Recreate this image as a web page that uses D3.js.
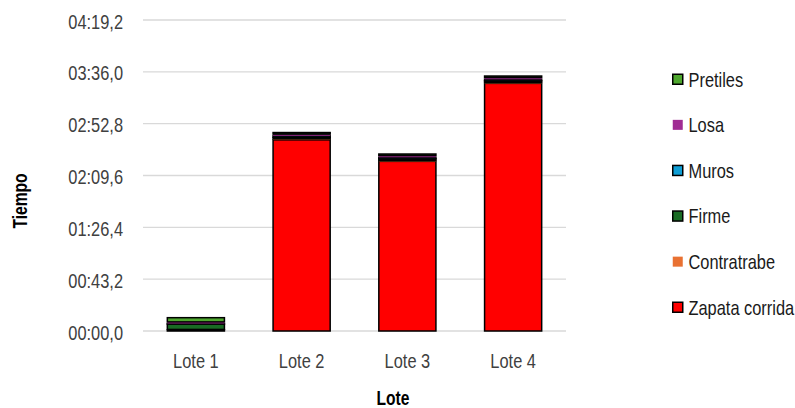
<!DOCTYPE html>
<html>
<head>
<meta charset="utf-8">
<script src="https://cdn.jsdelivr.net/npm/d3@7"></script>
<style>
  html, body { margin: 0; padding: 0; background: #fff; }
</style>
</head>
<body>
<svg id="chart" width="795" height="408"></svg>
<script>
// Durations in seconds per lot and construction stage
const lotes = ["Lote 1", "Lote 2", "Lote 3", "Lote 4"];
const etapas = ["Zapata corrida", "Contratrabe", "Firme", "Muros", "Losa", "Pretiles"];
const zapataCorrida = [1, 159.3, 141.4, 206.4];
const contratrabe   = [0.3, 0.8, 0.8, 0.8];
const firme         = [4.5, 1.3, 1.3, 1.3];
const muros         = [0.5, 1.3, 1.3, 1.3];
const losa          = [1.3, 1.4, 1.4, 1.4];
const pretiles      = [3.5, 1.3, 1.3, 1.3];
const yTicks = [0, 43.2, 86.4, 129.6, 172.8, 216, 259.2];

const colores = {
  "Zapata corrida": "#FF0000",
  "Contratrabe": "#E97132",
  "Firme": "#196B24",
  "Muros": "#0F9ED5",
  "Losa": "#A02B93",
  "Pretiles": "#4EA72E"
};
const sinBorde = new Set(["Contratrabe", "Losa"]);

// Pick a narrow face; if none is present, squeeze a regular one horizontally
function fontExists(name) {
  const ctx = document.createElement("canvas").getContext("2d");
  const probe = "Zapata corrida 04:19,2";
  ctx.font = "20px monospace";
  const base = ctx.measureText(probe).width;
  ctx.font = `20px "${name}", monospace`;
  return Math.abs(ctx.measureText(probe).width - base) > 0.5;
}
let FONT, SX;
if (fontExists("Liberation Sans Narrow")) { FONT = '"Liberation Sans Narrow"'; SX = 1; }
else if (fontExists("Arial Narrow")) { FONT = '"Arial Narrow"'; SX = 1; }
else { FONT = '"Liberation Sans", Arial, sans-serif'; SX = 0.8; }

function label(parent, x, y, str, o = {}) {
  return parent.append("text")
    .attr("transform", `translate(${x},${y}) rotate(${o.rotate || 0}) scale(${SX},1)`)
    .attr("text-anchor", o.anchor || "start")
    .attr("font-family", FONT)
    .attr("font-size", o.size || 20.5)
    .attr("font-weight", o.weight || "normal")
    .attr("fill", o.fill || "#262626")
    .text(str);
}

const series = [zapataCorrida, contratrabe, firme, muros, losa, pretiles];
const rows = lotes.map((l, i) => {
  const r = { lote: l };
  etapas.forEach((e, k) => r[e] = series[k][i]);
  return r;
});

const svg = d3.select("#chart");
const x = d3.scaleBand().domain(lotes).range([143, 566]).paddingInner(0.46).paddingOuter(0.23);
const y = d3.scaleLinear().domain([0, 259.2]).range([331, 20]);

const fmt = s => {
  const m = Math.floor(s / 60 + 1e-9);
  const sec = s - m * 60;
  return String(m).padStart(2, "0") + ":" + sec.toFixed(1).padStart(4, "0").replace(".", ",");
};

// gridlines
svg.append("g").selectAll("line").data(yTicks).join("line")
  .attr("x1", 143).attr("x2", 566)
  .attr("y1", d => y(d)).attr("y2", d => y(d))
  .attr("stroke", "#d9d9d9").attr("stroke-width", 1.3);

// y axis: tick positions from d3.axisLeft, labels in the narrow face
const yAxis = svg.append("g").attr("transform", "translate(143,0)")
  .call(d3.axisLeft(y).tickValues(yTicks).tickFormat(fmt).tickSize(0));
yAxis.select(".domain").remove();
yAxis.selectAll(".tick").each(function (d) {
  const t = d3.select(this);
  t.select("text").remove();
  label(t, -20, 8, fmt(d), { anchor: "end", fill: "#404040" });
});

// x axis
const xAxis = svg.append("g").attr("transform", "translate(0,331)")
  .call(d3.axisBottom(x).tickSize(0));
xAxis.select(".domain").remove();
xAxis.selectAll(".tick").each(function (d) {
  const t = d3.select(this);
  t.select("text").remove();
  label(t, 0, 37, d, { anchor: "middle", fill: "#404040" });
});

// stacked bars
const stacked = d3.stack().keys(etapas)(rows);
svg.append("g").selectAll("g").data(stacked).join("g")
  .attr("fill", d => colores[d.key])
  .attr("stroke", d => sinBorde.has(d.key) ? "none" : "#000")
  .attr("stroke-width", 1.5)
  .selectAll("rect").data(d => d).join("rect")
  .attr("x", d => x(d.data.lote))
  .attr("width", x.bandwidth())
  .attr("y", d => y(d[1]))
  .attr("height", d => y(d[0]) - y(d[1]));

// axis titles
label(svg, 393, 405, "Lote", { anchor: "middle", size: 19.5, weight: "bold", fill: "#000" });
label(svg, 27, 201, "Tiempo", { anchor: "middle", size: 19.5, weight: "bold", fill: "#000", rotate: -90 });

// legend (top to bottom in reverse stacking order)
const leyenda = etapas.slice().reverse();
const lg = svg.append("g").selectAll("g").data(leyenda).join("g")
  .attr("transform", (d, i) => `translate(672,${79 + i * 45.6})`);
lg.append("rect").attr("x", 0.75).attr("y", -4.75).attr("width", 10).attr("height", 10)
  .attr("fill", d => colores[d])
  .attr("stroke", d => sinBorde.has(d) ? "none" : "#000").attr("stroke-width", 1.5);
lg.each(function (d) { label(d3.select(this), 16.5, 7.5, d, { fill: "#1a1a1a" }); });
</script>
</body>
</html>
